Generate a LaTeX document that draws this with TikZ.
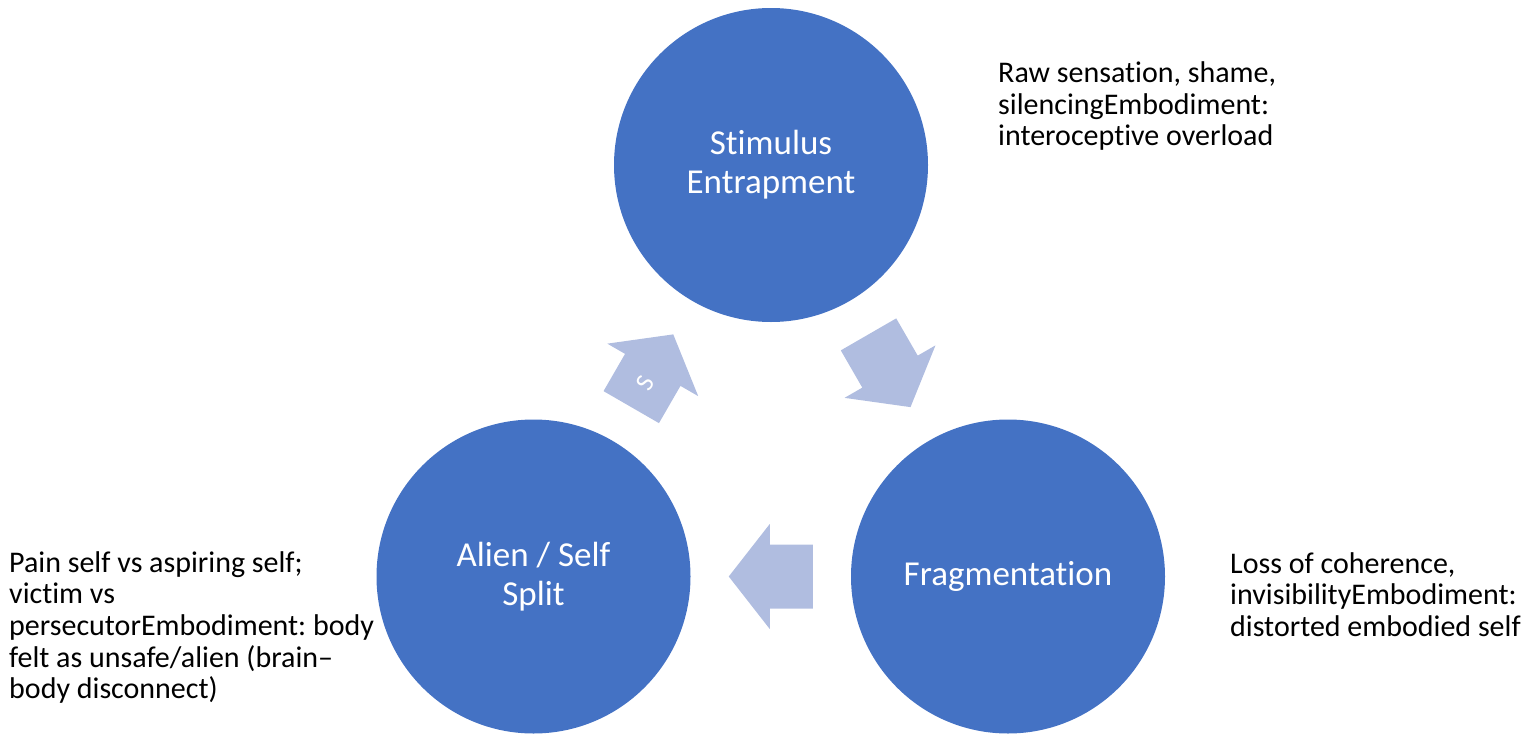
\documentclass[tikz,border=0pt]{standalone}
\usepackage{fontspec}
\setmainfont{Carlito}
\usetikzlibrary{calc}
\frenchspacing
\newcommand{\zb}{\kern0pt }
\definecolor{circblue}{RGB}{68,114,196}
\definecolor{arrowblue}{RGB}{176,189,224}
\tikzset{
  stage/.style={circle, fill=circblue, draw=none, minimum size=314pt, inner sep=0pt,
    text=white, align=center, font=\fontsize{35}{39}\selectfont},
  note/.style={anchor=north west, inner sep=0pt, align=left, text=black,
    font=\fontsize{30}{31.7}\selectfont},
  blockarrow/.style={fill=arrowblue, draw=none},
  arrowlabel/.style={text=white, inner sep=0pt, font=\fontsize{26}{28}\selectfont, transform shape}
}
\newcommand{\cyclearrow}{(-42,-32) -- (1,-32) -- (1,-52.5) -- (42,0) -- (1,52.5) -- (1,32) -- (-42,32) -- cycle}
\begin{document}
\begin{tikzpicture}[x=1pt, y=-1pt]
\useasboundingbox (0,0) rectangle (1535,742);
\node[stage] (top) at (771,165) {St\zb imulus\\Entrapment};
\node[stage] (right) at (1008,576.5) {Fragmentat\zb ion};
\node[stage] (left) at (533.5,576.5) {Alien / Self\\Split};

\coordinate (a1) at ($(top)!0.5!(right)$);
\coordinate (a2) at ($(right)!0.5!(left)$);
\coordinate (a3) at ($(left)!0.5!(top)$);

\begin{scope}[shift={(a1)}, rotate=-60]
  \fill[blockarrow] \cyclearrow;
\end{scope}
\begin{scope}[shift={(a2)}, rotate=180]
  \fill[blockarrow] \cyclearrow;
\end{scope}
\begin{scope}[shift={(a3)}, rotate=60]
  \fill[blockarrow] \cyclearrow;
  \node[arrowlabel] (slabel) at (-14,0) {S};
\end{scope}

\node[note] (topnote) at (998,61.5) {Raw sensat\zb ion, shame,\\silencingEmbodiment:\\interocept\zb ive overload};
\node[note] (rightnote) at (1230,552) {Loss of coherence,\\invisibilityEmbodiment:\\distorted embodied self};
\node[note] (leftnote) at (9,551) {Pain self vs aspiring self;\\vict\zb im vs\\persecutorEmbodiment: body\\felt as unsafe/alien (brain–\\body disconnect)};
\end{tikzpicture}
\end{document}
